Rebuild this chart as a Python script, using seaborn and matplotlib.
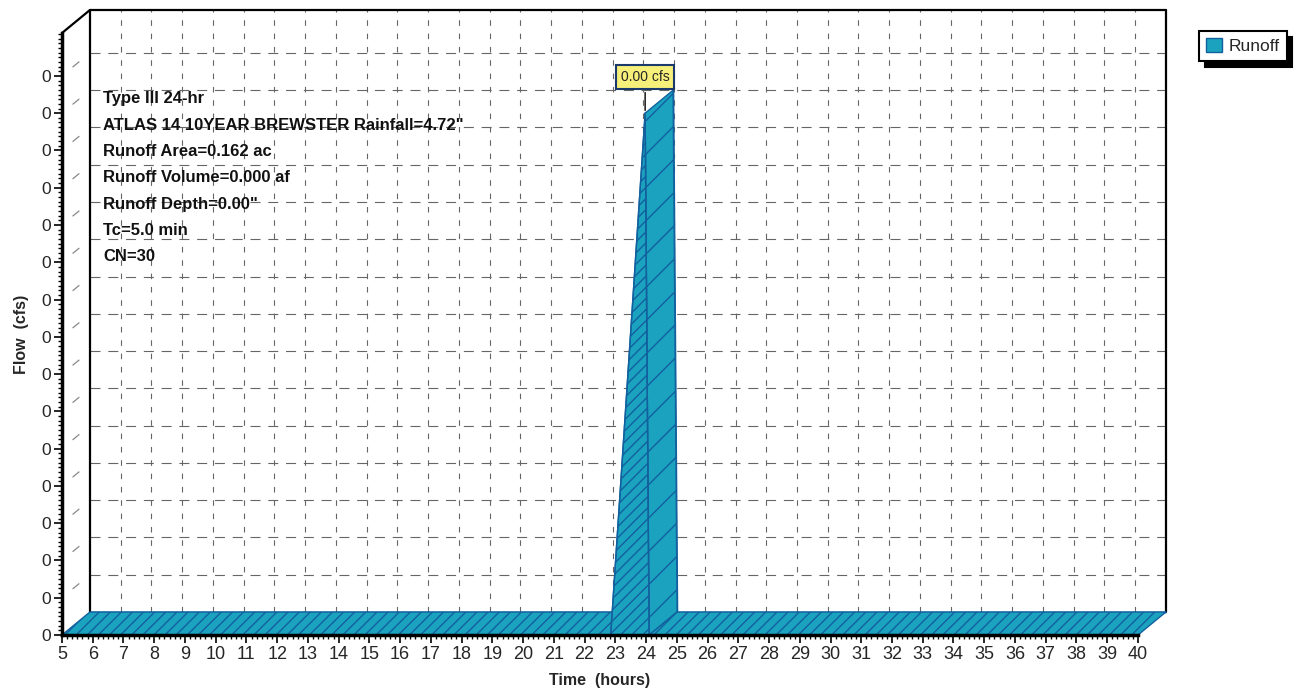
import numpy as np
import pandas as pd
import seaborn as sns
import matplotlib.pyplot as plt
from matplotlib.ticker import MultipleLocator, AutoMinorLocator, FormatStrFormatter

# hydrograph (hours, cfs)
time_hr = [5.0, 22.85, 23.97, 24.1, 40.0]
flow_cfs = [0.0, 0.0, 0.0028, 0.0, 0.0]
peak_label = "0.00 cfs"
series_name = "Runoff"
info_lines = ["Type III 24-hr",
              'ATLAS 14 10YEAR BREWSTER Rainfall=4.72"',
              "Runoff Area=0.162 ac",
              "Runoff Volume=0.000 af",
              'Runoff Depth=0.00"',
              "Tc=5.0 min",
              "CN=30"]
x_min, x_max = 5, 40
y_step = 0.0002
y_ticks = [k * y_step for k in range(16)]
y_top = 0.00323

df = pd.DataFrame({"Time": time_hr, "Flow": flow_cfs})
t = df["Time"].to_numpy()
q = df["Flow"].to_numpy()

sns.set_style("white")
plt.rcParams["font.family"] = ["Liberation Sans", "DejaVu Sans"]

teal = "#1aa2bf"
dark = "#12609e"
plt.rcParams["hatch.linewidth"] = 1.0
dt = 0.91        # depth offset (hours)
dq = 0.0001235   # depth offset (cfs)

fig = plt.figure(figsize=(12.99, 6.91), dpi=100)
ax = fig.add_axes([0.0477, 0.0810, 0.8283, 0.8712])
ax.set_xlim(x_min, x_max)
ax.set_ylim(0, y_top)

# back wall grid + side wall
for x in range(x_min + 1, x_max):
    ax.plot([x + dt, x + dt], [dq, y_top + dq], color="#666666", lw=0.8,
            ls=(0, (5, 7)), clip_on=False, zorder=1)
for y in y_ticks[1:]:
    ax.plot([x_min + dt, x_max + dt], [y + dq, y + dq], color="#666666", lw=0.8,
            ls=(0, (9, 7)), clip_on=False, zorder=1)
    ax.plot([x_min, x_min + dt], [y, y + dq], color="#888888", lw=0.9,
            ls=(26, (7, 30)), clip_on=False, zorder=1)

# back wall frame
kw = dict(color="black", lw=1.6, clip_on=False, zorder=1.5)
ax.plot([x_min + dt, x_min + dt], [dq, y_top + dq], **kw)
ax.plot([x_min + dt, x_max + dt], [y_top + dq, y_top + dq], **kw)
ax.plot([x_max + dt, x_max + dt], [dq, y_top + dq], **kw)
ax.plot([x_min, x_min + dt], [y_top, y_top + dq], **kw)

# ribbon: back face, side faces, front face
ax.fill_between(t + dt, q + dq, dq, facecolor=teal, edgecolor=dark, lw=1,
                clip_on=False, zorder=2, label=series_name)
for i in range(len(t) - 1):
    dx, dy = t[i + 1] - t[i], q[i + 1] - q[i]
    if dx * dq - dy * dt <= 0:
        continue
    xs = [t[i], t[i + 1], t[i + 1] + dt, t[i] + dt]
    ys = [q[i], q[i + 1], q[i + 1] + dq, q[i] + dq]
    hatch = "/" if dy < 0 else "///"
    ax.fill(xs, ys, facecolor=teal, edgecolor=dark, lw=1, hatch=hatch,
            clip_on=False, zorder=3)
ax.fill_between(t, q, 0, facecolor=teal, edgecolor=dark, lw=1, hatch="///",
                clip_on=False, zorder=4)
sns.lineplot(data=df, x="Time", y="Flow", ax=ax, color=dark, lw=1, zorder=5,
             legend=False)

# peak label
ip = int(np.argmax(q))
ax.annotate(peak_label, xy=(t[ip], q[ip]), xytext=(0, 36), textcoords="offset pixels",
            ha="center", va="center", fontsize=10, zorder=6,
            bbox=dict(boxstyle="square,pad=0.35", fc="#f6ef7a", ec="#1b3a6b", lw=1.5),
            arrowprops=dict(arrowstyle="-", color="black", lw=1))

# axes styling
for s in ["top", "right"]:
    ax.spines[s].set_visible(False)
for s in ["left", "bottom"]:
    ax.spines[s].set_color("black")
    ax.spines[s].set_linewidth(2.5)
    ax.spines[s].set_zorder(6)
ax.xaxis.set_major_locator(MultipleLocator(1))
ax.xaxis.set_minor_locator(AutoMinorLocator(6))
ax.set_yticks(y_ticks)
ax.yaxis.set_minor_locator(AutoMinorLocator(8))
ax.yaxis.set_major_formatter(FormatStrFormatter("%.0f"))
ax.tick_params(which="both", bottom=True, left=True, top=False, right=False)
ax.tick_params(which="major", direction="out", length=6, width=1.2, color="black")
ax.tick_params(which="minor", direction="out", length=3, width=1, color="black")
ax.tick_params(axis="x", labelsize=13, pad=2)
ax.tick_params(axis="y", labelsize=12.5, pad=2)
ax.set_xlabel("Time  (hours)", fontsize=11.5, fontweight="bold", labelpad=7)
ax.set_ylabel("Flow  (cfs)", fontsize=11.5, fontweight="bold", labelpad=9)

# info block
for k, line in enumerate(info_lines):
    fig.text(103 / 1299, 1 - (99 + 26.3 * k) / 691, line, fontsize=12,
             fontweight="bold", va="center", ha="left", color="#111111")

leg = fig.legend(loc="upper left", bbox_to_anchor=(1199 / 1299, 1 - 31 / 691),
                 borderaxespad=0, fancybox=False, fontsize=12.5,
                 handlelength=0.9, handleheight=0.9, handletextpad=0.4,
                 borderpad=0.4, edgecolor="black",
                 shadow={"ox": 4, "oy": -4, "color": "black", "alpha": 1})
leg.get_frame().set_linewidth(1.5)

fig.savefig("out.png", dpi=100)
